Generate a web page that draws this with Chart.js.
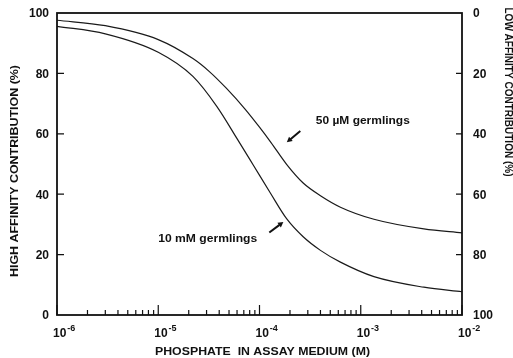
<!DOCTYPE html>
<html lang="en">
<head>
  <meta charset="UTF-8" />
  <title>High / low affinity contribution</title>
  <style>
    body { margin: 0; padding: 0; background: #fff; }
    canvas { display: block; }
  </style>
</head>
<body>
  <canvas id="chart" width="513" height="358"></canvas>

  <script src="https://cdn.jsdelivr.net/npm/chart.js"></script>
  <script>
    // phosphate concentration (M) and high affinity contribution (%)
    const concUpper = [1e-6, 3e-6, 1e-5, 2.2e-5, 3.2e-5, 4.7e-5, 7.2e-5, 1e-4, 1.3e-4, 1.86e-4, 2.7e-4, 4e-4, 6.3e-4, 1.35e-3, 4.2e-3, 1e-2];
    const upperValues = [97.6, 95.8, 91.2, 84.9, 80.6, 75.1, 68.2, 62.2, 57.1, 49.8, 43.7, 39.5, 35.7, 31.7, 28.5, 27.2];

    const concLower = [1e-6, 3e-6, 1e-5, 2.2e-5, 3.8e-5, 6e-5, 8.7e-5, 1.28e-4, 1.86e-4, 2.7e-4, 4e-4, 6.3e-4, 1.35e-3, 4.2e-3, 1e-2];
    const lowerValues = [95.6, 93.1, 87.0, 79.0, 69.0, 58.4, 49.6, 40.4, 31.8, 25.9, 21.4, 17.5, 12.7, 9.2, 7.7];

    const yTicks = [0, 20, 40, 60, 80, 100];
    const decades = [-6, -5, -4, -3, -2];
    const seriesNames = ["50 \u00b5M germlings", "10 mM germlings"];

    const xTitle = "PHOSPHATE  IN ASSAY MEDIUM (M)";
    const yTitle = "HIGH AFFINITY CONTRIBUTION (%)";
    const y2Title = "LOW AFFINITY CONTRIBUTION (%)";

    const BOLD = "'Liberation Sans', Arial, sans-serif";

    function toPoints(xs, ys) {
      return xs.map((x, i) => ({ x, y: ys[i] }));
    }

    // draw text stretched to a given width
    function fitText(ctx, text, x, y, width, size, rot) {
      ctx.save();
      ctx.font = "bold " + size + "px " + BOLD;
      const w = ctx.measureText(text).width;
      ctx.translate(x, y);
      if (rot) ctx.rotate(rot);
      ctx.scale(width / w, 1);
      ctx.textAlign = "left";
      ctx.textBaseline = "alphabetic";
      ctx.fillText(text, rot ? -w / 2 : 0, 0);
      ctx.restore();
    }

    function arrow(ctx, x1, y1, x2, y2) {
      const ang = Math.atan2(y2 - y1, x2 - x1);
      const head = 6;
      ctx.save();
      ctx.lineWidth = 2;
      ctx.beginPath();
      ctx.moveTo(x1, y1);
      ctx.lineTo(x2 - Math.cos(ang) * head * 0.8, y2 - Math.sin(ang) * head * 0.8);
      ctx.stroke();
      ctx.beginPath();
      ctx.moveTo(x2, y2);
      ctx.lineTo(x2 - head * Math.cos(ang - 0.5), y2 - head * Math.sin(ang - 0.5));
      ctx.lineTo(x2 - head * Math.cos(ang + 0.5), y2 - head * Math.sin(ang + 0.5));
      ctx.closePath();
      ctx.fill();
      ctx.restore();
    }

    const axesPlugin = {
      id: "axesPlugin",
      afterDraw(chart) {
        const ctx = chart.ctx;
        const xs = chart.scales.x, ys = chart.scales.y, ys2 = chart.scales.y2;
        const a = chart.chartArea;
        ctx.save();
        ctx.strokeStyle = "#111";
        ctx.fillStyle = "#111";

        // frame
        ctx.lineWidth = 1.8;
        ctx.strokeRect(a.left, a.top, a.right - a.left, a.bottom - a.top);

        // bottom ticks (inward)
        ctx.lineWidth = 1.2;
        ctx.beginPath();
        decades.forEach(d => {
          const px = xs.getPixelForValue(Math.pow(10, d));
          ctx.moveTo(px, a.bottom);
          ctx.lineTo(px, a.bottom - 10);
          if (d < -2) {
            for (let m = 2; m <= 9; m++) {
              const mx = xs.getPixelForValue(m * Math.pow(10, d));
              ctx.moveTo(mx, a.bottom);
              ctx.lineTo(mx, a.bottom - 5);
            }
          }
        });
        // left and right ticks
        yTicks.forEach(v => {
          if (v === 0 || v === 100) return;
          const py = ys.getPixelForValue(v);
          ctx.moveTo(a.left, py);
          ctx.lineTo(a.left + 7, py);
          const py2 = ys2.getPixelForValue(v);
          ctx.moveTo(a.right, py2);
          ctx.lineTo(a.right - 6, py2);
        });
        ctx.stroke();

        // tick labels
        ctx.font = "bold 12px " + BOLD;
        ctx.textBaseline = "middle";
        ctx.textAlign = "right";
        yTicks.forEach(v => ctx.fillText(String(v), a.left - 8, ys.getPixelForValue(v) + 1));
        ctx.textAlign = "left";
        yTicks.forEach(v => ctx.fillText(String(v), a.right + 11, ys2.getPixelForValue(v) + 1));

        ctx.textBaseline = "alphabetic";
        decades.forEach(d => {
          const px = xs.getPixelForValue(Math.pow(10, d));
          ctx.font = "bold 12px " + BOLD;
          ctx.fillText("10", px - 4, a.bottom + 22);
          const w = ctx.measureText("10").width;
          ctx.font = "bold 9px " + BOLD;
          ctx.fillText(String(d), px - 3 + w, a.bottom + 16);
        });

        // axis titles
        fitText(ctx, xTitle, 155, 355, 215, 11, 0);
        fitText(ctx, yTitle, 18, 171, 212, 11, -Math.PI / 2);
        fitText(ctx, y2Title, 505, 92, 169, 10, Math.PI / 2);

        // series labels and arrows, placed in data units
        const P = (x, y) => [xs.getPixelForValue(x), ys.getPixelForValue(y)];
        let p = P(3.6e-4, 63.2);
        fitText(ctx, seriesNames[0], p[0], p[1], 94, 11, 0);
        p = P(1.0e-5, 24.2);
        fitText(ctx, seriesNames[1], p[0], p[1], 99, 11, 0);

        let t = P(2.53e-4, 60.9), h = P(1.86e-4, 57.2);
        arrow(ctx, t[0], t[1], h[0], h[1]);
        t = P(1.25e-4, 27.3); h = P(1.72e-4, 30.8);
        arrow(ctx, t[0], t[1], h[0], h[1]);

        ctx.restore();
      }
    };

    const lineStyle = {
      showLine: true,
      borderColor: "#1a1a1a",
      borderWidth: 1.2,
      pointRadius: 0,
      cubicInterpolationMode: "monotone",
      fill: false
    };

    new Chart(document.getElementById("chart").getContext("2d"), {
      type: "scatter",
      data: {
        datasets: [
          Object.assign({ label: seriesNames[0], data: toPoints(concUpper, upperValues), yAxisID: "y" }, lineStyle),
          Object.assign({ label: seriesNames[1], data: toPoints(concLower, lowerValues), yAxisID: "y" }, lineStyle)
        ]
      },
      options: {
        responsive: false,
        animation: false,
        devicePixelRatio: 1,
        layout: { padding: { left: 57, right: 51, top: 13, bottom: 43 } },
        plugins: { legend: { display: false }, tooltip: { enabled: false } },
        scales: {
          x: { type: "logarithmic", min: 1e-6, max: 1e-2, display: false },
          y: { min: 0, max: 100, display: false },
          y2: { min: 0, max: 100, reverse: true, display: false, position: "right" }
        }
      },
      plugins: [axesPlugin]
    });
  </script>
</body>
</html>
